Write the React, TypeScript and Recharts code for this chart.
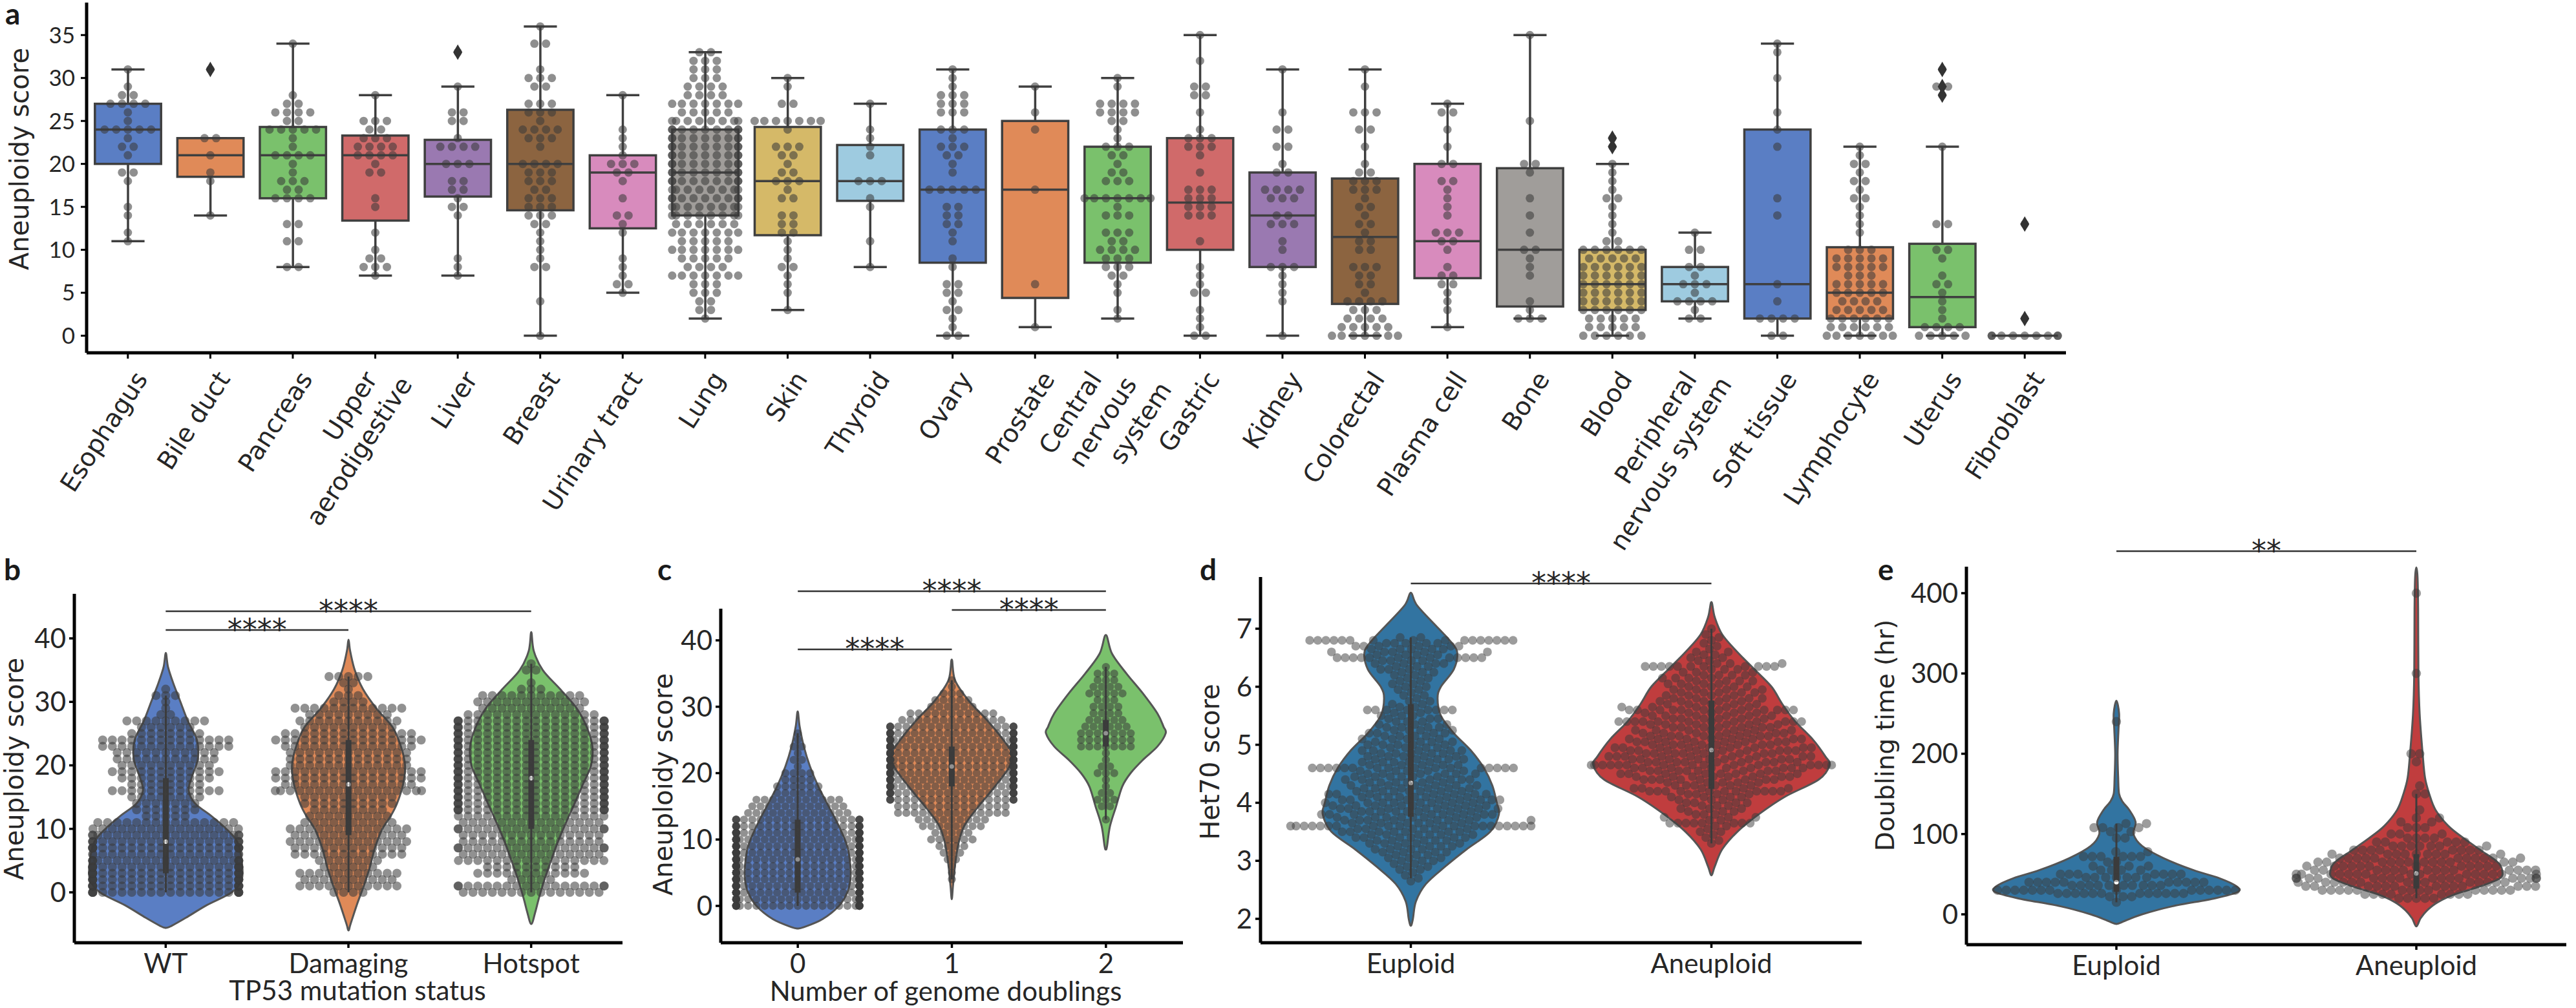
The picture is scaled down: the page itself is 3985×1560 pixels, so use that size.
import React from 'react';
import { ComposedChart, Bar, Scatter, XAxis, YAxis, ReferenceLine } from 'recharts';

// ---------------- Panel a data ----------------
const aCategories = ['Esophagus', 'Bile duct', 'Pancreas', 'Upper\naerodigestive', 'Liver', 'Breast', 'Urinary tract', 'Lung', 'Skin', 'Thyroid', 'Ovary', 'Prostate', 'Central\nnervous\nsystem', 'Gastric', 'Kidney', 'Colorectal', 'Plasma cell', 'Bone', 'Blood', 'Peripheral\nnervous system', 'Soft tissue', 'Lymphocyte', 'Uterus', 'Fibroblast'];
const aWhiskerLow = [11, 14, 8, 7, 7, 0, 5, 2, 3, 8, 0, 1, 2, 0, 0, 0, 1, 2, 0, 2, 0, 0, 0, 0];
const aQ1 = [20, 18.5, 16, 13.4, 16.2, 14.6, 12.5, 14, 11.7, 15.7, 8.5, 4.4, 8.5, 10, 8, 3.7, 6.7, 3.4, 3, 4, 2, 2, 1, 0];
const aMedian = [24, 21, 21, 21, 20, 20, 19, 19, 18, 18, 17, 17, 16, 15.5, 14, 11.5, 11, 10, 6, 6, 6, 5, 4.5, 0];
const aQ3 = [27, 23, 24.3, 23.3, 22.8, 26.3, 21, 24, 24.3, 22.2, 24, 25, 22, 23, 19, 18.3, 20, 19.5, 10, 8, 24, 10.3, 10.7, 0];
const aWhiskerHigh = [31, 23, 34, 28, 29, 36, 28, 33, 30, 27, 31, 29, 30, 35, 31, 31, 27, 35, 20, 12, 34, 22, 22, 0];
const aOutliers = [[], [31], [], [], [33], [], [], [], [], [], [], [], [], [], [], [], [], [], [22, 23], [], [], [], [28, 29, 31], [2, 13]];

const esophagus = [11, 12, 14, 15, 18, 19, 19, 21, 22, 22, 23, 24, 24, 24, 24, 24, 25, 26, 27, 27, 27, 27, 28, 28, 29, 31];
const bileDuct = [14, 18, 19, 21, 23, 23, 31];
const pancreas = [8, 8, 11, 11, 13, 13, 16, 16, 16, 16, 17, 17, 18, 18, 18, 19, 20, 21, 21, 21, 21, 22, 23, 24, 24, 24, 24, 24, 25, 25, 26, 26, 26, 26, 27, 27, 28, 34];
const upperAero = [7, 8, 8, 8, 9, 9, 10, 12, 15, 16, 19, 19, 20, 21, 21, 21, 21, 22, 22, 22, 22, 23, 23, 23, 24, 24, 25, 25, 25, 28];
const liver = [7, 8, 9, 14, 15, 15, 16, 17, 17, 18, 18, 20, 20, 20, 22, 22, 22, 22, 23, 25, 25, 26, 26, 29, 33];
const breast = [0, 4, 8, 8, 9, 10, 11, 12, 13, 13, 14, 14, 14, 15, 15, 15, 16, 16, 16, 17, 17, 18, 18, 18, 19, 19, 19, 20, 20, 20, 20, 22, 23, 23, 23, 24, 24, 24, 24, 25, 26, 26, 26, 27, 27, 27, 29, 29, 30, 30, 30, 31, 34, 34, 36];
const urinaryTract = [5, 6, 6, 7, 8, 9, 12, 13, 14, 14, 16, 18, 19, 19, 20, 20, 20, 21, 22, 23, 24, 28];
const lungCounts = [0, 0, 1, 2, 2, 3, 3, 7, 4, 5, 7, 5, 7, 6, 8, 8, 9, 8, 9, 9, 9, 9, 9, 9, 9, 8, 5, 7, 4, 4, 3, 3, 3, 2];
const skin = [3, 5, 6, 7, 8, 8, 9, 10, 11, 12, 12, 13, 13, 14, 14, 16, 16, 17, 18, 18, 18, 19, 19, 20, 21, 21, 22, 22, 22, 24, 25, 25, 25, 25, 25, 25, 25, 27, 27, 29, 30];
const thyroid = [8, 11, 15, 16, 18, 18, 18, 21, 22, 23, 24, 27];
const ovary = [0, 0, 1, 2, 3, 3, 4, 5, 5, 6, 6, 8, 9, 11, 12, 13, 13, 14, 14, 15, 15, 17, 17, 17, 17, 17, 19, 20, 21, 21, 22, 22, 22, 23, 24, 24, 24, 26, 26, 26, 27, 27, 27, 28, 28, 28, 29, 30, 31];
const prostate = [1, 6, 17, 24, 26, 29];
const cns = [2, 3, 5, 6, 7, 7, 8, 8, 8, 9, 9, 9, 10, 10, 10, 10, 11, 11, 12, 12, 12, 14, 14, 14, 15, 16, 16, 16, 16, 16, 16, 16, 18, 18, 18, 19, 19, 20, 21, 21, 22, 22, 22, 23, 24, 25, 25, 26, 26, 26, 26, 27, 27, 27, 27, 29, 30];
const gastric = [0, 0, 1, 2, 3, 5, 5, 6, 7, 8, 11, 14, 14, 14, 15, 15, 15, 16, 16, 16, 17, 17, 17, 19, 21, 22, 22, 22, 23, 23, 23, 24, 26, 28, 28, 29, 29, 32, 35];
const kidney = [0, 4, 5, 6, 7, 8, 8, 8, 10, 11, 13, 13, 13, 14, 14, 16, 16, 16, 17, 17, 17, 17, 19, 19, 20, 22, 22, 24, 24, 26, 31];
const colorectal = [0, 0, 0, 0, 0, 0, 0, 1, 1, 1, 1, 1, 2, 2, 2, 2, 3, 3, 3, 4, 4, 4, 4, 5, 6, 6, 7, 7, 8, 8, 8, 10, 10, 11, 11, 12, 13, 13, 14, 15, 15, 16, 17, 17, 17, 18, 18, 18, 19, 19, 20, 22, 24, 24, 26, 26, 26, 29, 31];
const plasmaCell = [1, 3, 4, 5, 6, 6, 7, 7, 8, 10, 11, 11, 12, 12, 12, 14, 15, 16, 17, 18, 18, 20, 20, 22, 24, 26, 26, 27];
const bone = [2, 2, 2, 3, 4, 7, 8, 9, 10, 10, 12, 14, 16, 19, 20, 20, 25, 35];
const bloodCounts = [6, 5, 5, 6, 6, 6, 6, 6, 6, 5, 6, 2, 1, 1, 1, 1, 2, 1, 1, 1, 1, 0, 1, 1];
const peripheral = [2, 2, 3, 4, 4, 4, 4, 5, 6, 6, 6, 7, 8, 8, 10, 10, 12];
const softTissue = [0, 0, 2, 2, 2, 2, 4, 6, 14, 16, 22, 24, 26, 30, 33, 34];
const lymphocyteCounts = [7, 6, 6, 5, 4, 5, 5, 3, 5, 5, 3, 0, 1, 1, 1, 1, 2, 1, 2, 1, 2, 1, 1];
const uterus = [0, 0, 0, 0, 0, 1, 1, 1, 1, 2, 3, 4, 5, 6, 6, 7, 9, 10, 10, 13, 13, 22, 28, 29, 29, 31];
const fibroblast = [0, 0, 0, 0, 0, 0, 0, 0, 0, 2, 13];
const aYTicks = [0, 5, 10, 15, 20, 25, 30, 35];

// ---------------- Panel b data ----------------
const bCategories = ['WT', 'Damaging', 'Hotspot'];
const bWtCounts = [22, 22, 22, 22, 22, 21, 18, 22, 20, 19, 16, 15, 5, 7, 7, 8, 12, 8, 10, 12, 10, 11, 11, 14, 14, 8, 6, 9, 2, 1, 1, 3, 1];
const bDamagingCounts = [4, 11, 10, 11, 6, 7, 12, 12, 13, 12, 13, 10, 9, 8, 10, 10, 17, 14, 16, 16, 13, 13, 13, 14, 16, 14, 10, 11, 9, 12, 4, 3, 1, 2, 5];
const bHotspotCounts = [15, 18, 5, 12, 10, 16, 15, 18, 15, 15, 18, 15, 16, 20, 20, 20, 20, 20, 20, 20, 20, 20, 20, 20, 20, 20, 20, 20, 14, 11, 12, 11, 3, 1, 0, 2, 1];
const bWtViolin = [[-5.6, 0], [-5.3, 0.03], [-4, 0.11], [-2, 0.225], [0, 0.36], [2, 0.415], [5, 0.415], [8, 0.39], [10, 0.33], [12, 0.25], [14, 0.16], [16, 0.125], [18, 0.14], [21, 0.175], [24, 0.17], [27, 0.12], [30, 0.08], [33, 0.04], [35.5, 0.012], [37.7, 0]];
const bDamagingViolin = [[-6, 0], [-5, 0.011], [-2, 0.045], [1, 0.083], [4, 0.117], [7, 0.144], [10, 0.185], [12, 0.23], [14, 0.265], [17, 0.298], [20, 0.309], [23, 0.286], [26, 0.241], [29, 0.151], [32, 0.079], [35, 0.034], [38, 0.009], [39.8, 0]];
const bHotspotViolin = [[-5, 0], [-3, 0.023], [-1, 0.041], [2, 0.072], [5, 0.108], [8, 0.146], [11, 0.19], [14, 0.237], [17, 0.282], [20, 0.327], [23, 0.334], [26, 0.304], [29, 0.248], [32, 0.158], [35, 0.063], [38, 0.014], [41, 0]];
const bInner = [[0, 3, 8, 18, 31], [0, 9, 17, 24, 34], [0, 10, 18, 24, 36]];
const bSig = [{ from: 0, to: 2, y: 44.27, text: '****' }, { from: 0, to: 1, y: 41.32, text: '****' }];

// ---------------- Panel c data ----------------
const cCategories = ['0', '1', '2'];
const c0Counts = [25, 25, 26, 26, 27, 27, 27, 27, 26, 26, 25, 24, 22, 20, 13, 12, 11, 6, 6, 4, 4, 1, 2, 1, 2, 1, 1];
const c1Start = 4;
const c1Counts = [1, 1, 1, 2, 3, 4, 6, 5, 8, 9, 14, 14, 20, 22, 23, 24, 25, 25, 25, 24, 24, 23, 22, 20, 13, 11, 6, 5, 3, 1, 1];
const c2Start = 13;
const c2Counts = [1, 0, 2, 3, 2, 1, 1, 3, 2, 1, 1, 7, 7, 7, 6, 5, 4, 4, 3, 5, 4, 3, 3, 1];
const c0Violin = [[-3.4, 0], [-3.2, 0.04], [-2, 0.161], [0, 0.268], [2, 0.322], [4, 0.343], [6, 0.343], [9, 0.322], [12, 0.268], [15, 0.201], [18, 0.134], [21, 0.08], [24, 0.04], [27, 0.013], [29.3, 0]];
const c1Violin = [[1, 0], [3, 0.008], [6, 0.021], [9, 0.04], [12, 0.08], [15, 0.174], [18, 0.281], [21, 0.375], [23, 0.389], [25, 0.335], [28, 0.228], [31, 0.107], [34, 0.021], [37.1, 0]];
const c2Violin = [[8.5, 0], [9, 0.008], [12, 0.027], [15, 0.067], [18, 0.107], [20, 0.161], [22, 0.241], [24, 0.335], [26, 0.389], [27, 0.375], [29, 0.335], [32, 0.241], [35, 0.134], [38, 0.04], [40.8, 0]];
const cInner = [[0, 2, 7, 13, 26], [4, 18, 21, 24, 34], [13, 24, 26, 28, 36]];
const cSig = [{ from: 0, to: 2, y: 47.4, text: '****' }, { from: 1, to: 2, y: 44.57, text: '****' }, { from: 0, to: 1, y: 38.64, text: '****' }];

// ---------------- Panel d data ----------------
const dCategories = ['Euploid', 'Aneuploid'];
const het70Start = 2.6;
const het70Step = 0.05;
const dEuploidCounts = [0, 1, 1, 1, 1, 2, 2, 2, 3, 3, 3, 4, 4, 4, 5, 5, 6, 6, 7, 6, 20, 6, 8, 8, 8, 8, 8, 8, 8, 8, 8, 7, 7, 6, 6, 6, 6, 6, 6, 5, 16, 5, 5, 5, 5, 5, 5, 4, 5, 4, 4, 4, 4, 4, 4, 3, 3, 3, 3, 2, 8, 2, 2, 2, 1, 2, 1, 2, 2, 2, 2, 2, 2, 3, 3, 3, 4, 4, 12, 4, 5, 5, 6, 5, 16, 2];
const dAneuploidCounts = [0, 0, 0, 0, 0, 0, 0, 0, 0, 0, 0, 0, 0, 0, 1, 1, 1, 1, 2, 1, 2, 8, 2, 3, 3, 3, 3, 3, 4, 3, 4, 4, 11, 5, 6, 5, 8, 8, 8, 8, 9, 15, 9, 9, 9, 9, 9, 9, 8, 8, 8, 8, 7, 7, 7, 6, 12, 6, 6, 5, 12, 5, 5, 5, 5, 4, 5, 4, 4, 4, 4, 4, 4, 3, 3, 11, 3, 2, 2, 2, 2, 1, 1, 1, 1, 1, 1, 0, 1];
const dEuploidViolin = [[1.88, 0], [2.0, 0.007], [2.3, 0.017], [2.6, 0.05], [2.9, 0.114], [3.2, 0.186], [3.5, 0.264], [3.8, 0.293], [4.0, 0.286], [4.3, 0.271], [4.6, 0.243], [4.9, 0.2], [5.2, 0.143], [5.5, 0.1], [5.8, 0.089], [6.0, 0.1], [6.3, 0.143], [6.6, 0.154], [6.8, 0.129], [7.0, 0.093], [7.4, 0.021], [7.62, 0]];
const dAneuploidViolin = [[2.75, 0], [2.9, 0.011], [3.2, 0.036], [3.5, 0.086], [3.8, 0.157], [4.1, 0.243], [4.4, 0.357], [4.65, 0.393], [4.8, 0.379], [5.1, 0.336], [5.4, 0.279], [5.7, 0.236], [6.0, 0.2], [6.3, 0.143], [6.6, 0.086], [6.9, 0.036], [7.2, 0.011], [7.46, 0]];
const dInner = [[2.7, 3.76, 4.34, 5.7, 6.85], [3.3, 4.24, 4.91, 5.76, 7.0]];
const dSig = [{ from: 0, to: 1, y: 7.78, text: '****' }];

// ---------------- Panel e data ----------------
const eCategories = ['Euploid', 'Aneuploid'];
const eEuploidValues = [15, 22, 26, 30, 36, 40, 46, 50, 55, 60, 65, 72, 78, 95, 103, 108, 113, 240];
const eEuploidCounts = [1, 3, 12, 14, 10, 10, 7, 7, 4, 3, 2, 6, 2, 2, 2, 4, 2, 1];
const eAneuploidValues = [20, 25, 30, 35, 40, 45, 50, 55, 60, 65, 70, 75, 80, 85, 90, 95, 100, 108, 115, 120, 130, 150, 160, 190, 200, 300, 400];
const eAneuploidCounts = [5, 8, 14, 13, 14, 17, 15, 14, 12, 12, 11, 9, 8, 7, 5, 4, 3, 3, 2, 2, 1, 2, 1, 1, 2, 1, 1];
const eEuploidViolin = [[-12, 0], [-8, 0.029], [0, 0.086], [10, 0.186], [20, 0.329], [28, 0.405], [35, 0.4], [45, 0.343], [55, 0.257], [70, 0.157], [85, 0.086], [100, 0.057], [115, 0.064], [130, 0.043], [140, 0.021], [150, 0.009], [170, 0.006], [200, 0.004], [230, 0.007], [250, 0.009], [266, 0]];
const eAneuploidViolin = [[-15, 0], [-5, 0.014], [5, 0.036], [15, 0.071], [25, 0.129], [35, 0.214], [45, 0.279], [55, 0.286], [65, 0.271], [80, 0.214], [95, 0.157], [110, 0.107], [130, 0.064], [150, 0.043], [170, 0.029], [200, 0.021], [250, 0.011], [300, 0.007], [380, 0.006], [420, 0.004], [432, 0]];
const eInner = [[15, 28, 40, 72, 113], [20, 32, 51, 75, 150]];
const eSig = [{ from: 0, to: 1, y: 452.3, text: '**' }];

// ---------------- Styles ----------------
const boxPalette = ['#5a7ec4', '#e08a58', '#7ac16c', '#d06a6a', '#9a79b1', '#8c6440', '#d88bbd', '#a09d9a', '#d5b968', '#9ecbe0'];
const ploidyColors = ['#3274a1', '#c03d3e'];
const TXT = '#262626';

// ---------------- Layout configs ----------------
const A_CFG = { left: 0, top: 0, width: 3200, height: 900, margin: { top: 4, right: 4, bottom: 0, left: 0 }, yAxisWidth: 134, xAxisHeight: 354, domain: [-1.99, 38.78] };
const B_CFG = { left: 0, top: 820, width: 1000, height: 740, margin: { top: 99, right: 37, bottom: 0, left: 0 }, yAxisWidth: 115, xAxisHeight: 101, domain: [-7.94, 47.02] };
const C_CFG = { left: 1000, top: 820, width: 840, height: 740, margin: { top: 122, right: 10, bottom: 0, left: 0 }, yAxisWidth: 115, xAxisHeight: 101, domain: [-5.55, 44.77] };
const D_CFG = { left: 1840, top: 820, width: 1060, height: 740, margin: { top: 73, right: 20, bottom: 0, left: 0 }, yAxisWidth: 110, xAxisHeight: 101, domain: [1.588, 7.891] };
const E_CFG = { left: 2930, top: 820, width: 1055, height: 740, margin: { top: 57, right: 15, bottom: 0, left: 0 }, yAxisWidth: 112, xAxisHeight: 98, domain: [-37.8, 433] };

function plotDims(cfg: any, n: number) {
  const w = cfg.width - cfg.margin.left - cfg.margin.right - cfg.yAxisWidth;
  const h = cfg.height - cfg.margin.top - cfg.margin.bottom - cfg.xAxisHeight;
  return { band: w / n, pxPerUnit: h / (cfg.domain[1] - cfg.domain[0]) };
}

// ---------------- Helpers ----------------
function fromCounts(counts: number[], start = 0, step = 1): number[] {
  const out: number[] = [];
  counts.forEach((c, i) => {
    const v = +(start + i * step).toFixed(3);
    for (let k = 0; k < c; k++) out.push(v);
  });
  return out;
}
function fromPairs(values: number[], counts: number[]): number[] {
  const out: number[] = [];
  values.forEach((v, i) => { for (let k = 0; k < (counts[i] || 0); k++) out.push(v); });
  return out;
}
function rowSwarm(values: number[], cat: number, pitch: number, maxHalf = 0.4) {
  const groups = new Map<number, number>();
  values.forEach((v) => groups.set(v, (groups.get(v) || 0) + 1));
  const pts: { x: number; y: number }[] = [];
  groups.forEach((n, v) => {
    for (let k = 0; k < n; k++) {
      let off = (k - (n - 1) / 2) * pitch;
      off = Math.max(-maxHalf, Math.min(maxHalf, off));
      pts.push({ x: cat + off, y: v });
    }
  });
  return pts;
}
function beeswarm(values: number[], cat: number, pxPerUnit: number, band: number, diam: number, maxHalf = 0.4) {
  const sorted = [...values].sort((a, b) => a - b);
  const placed: { x: number; y: number }[] = [];
  const out: { x: number; y: number }[] = [];
  const d2 = diam * diam;
  for (const v of sorted) {
    const y = v * pxPerUnit;
    const neigh = placed.filter((p) => Math.abs(p.y - y) < diam);
    const cands = [0];
    for (const p of neigh) {
      const dx = Math.sqrt(Math.max(0, d2 - (p.y - y) * (p.y - y)));
      cands.push(p.x + dx, p.x - dx);
    }
    cands.sort((a, b) => Math.abs(a) - Math.abs(b));
    let chosen = 0;
    for (const c of cands) {
      if (neigh.every((p) => (p.x - c) * (p.x - c) + (p.y - y) * (p.y - y) >= d2 - 1e-6)) { chosen = c; break; }
    }
    placed.push({ x: chosen, y });
    let off = chosen / band;
    off = Math.max(-maxHalf, Math.min(maxHalf, off));
    out.push({ x: cat + off, y: v });
  }
  return out;
}
function closedSmooth(pts: number[][]) {
  const n = pts.length;
  if (n < 3) return '';
  let d = `M${pts[0][0]},${pts[0][1]}`;
  for (let i = 0; i < n; i++) {
    const p0 = pts[(i - 1 + n) % n], p1 = pts[i], p2 = pts[(i + 1) % n], p3 = pts[(i + 2) % n];
    const c1x = p1[0] + (p2[0] - p0[0]) / 6, c1y = p1[1] + (p2[1] - p0[1]) / 6;
    const c2x = p2[0] - (p3[0] - p1[0]) / 6, c2y = p2[1] - (p3[1] - p1[1]) / 6;
    d += `C${c1x},${c1y} ${c2x},${c2y} ${p2[0]},${p2[1]}`;
  }
  return d + 'Z';
}

// ---------------- Shapes ----------------
const BoxShape = (props: any) => {
  const src = props && props.payload && props.payload.q1 !== undefined ? props.payload : props;
  const { x, y, width, height } = props;
  if (src == null || src.q1 === undefined || !isFinite(x) || !isFinite(y)) return <g />;
  const { lo, q1, med, q3, hi, color } = src;
  const h = isFinite(height) ? height : 0;
  const py = (v: number) => (hi === lo ? y : y + (h * (hi - v)) / (hi - lo));
  const cx = x + width / 2;
  const bw = width * 0.8;
  const cw = bw / 2;
  const st = '#3f3f3f';
  const sw = 3.5;
  return (
    <g>
      <line x1={cx} x2={cx} y1={py(hi)} y2={py(q3)} stroke={st} strokeWidth={sw} />
      <line x1={cx} x2={cx} y1={py(q1)} y2={py(lo)} stroke={st} strokeWidth={sw} />
      <line x1={cx - cw / 2} x2={cx + cw / 2} y1={py(hi)} y2={py(hi)} stroke={st} strokeWidth={sw} />
      <line x1={cx - cw / 2} x2={cx + cw / 2} y1={py(lo)} y2={py(lo)} stroke={st} strokeWidth={sw} />
      <rect x={cx - bw / 2} y={py(q3)} width={bw} height={Math.max(0, py(q1) - py(q3))} fill={color} stroke={st} strokeWidth={sw} />
      <line x1={cx - bw / 2} x2={cx + bw / 2} y1={py(med)} y2={py(med)} stroke={st} strokeWidth={sw} />
    </g>
  );
};

const ViolinShape = (props: any) => {
  const src = props && props.payload && props.payload.profile ? props.payload : props;
  const { x, y, width, height } = props;
  if (src == null || !Array.isArray(src.profile) || !Array.isArray(src.stats) || !isFinite(x) || !isFinite(y)) return <g />;
  const prof: number[][] = src.profile;
  const lo = src.vlo;
  const hi = src.vhi;
  const py = (v: number) => y + (height * (hi - v)) / (hi - lo);
  const cx = x + width / 2;
  const right = prof.map((p) => [cx + p[1] * width, py(p[0])]);
  const left = prof.slice(1, -1).reverse().map((p) => [cx - p[1] * width, py(p[0])]);
  const d = closedSmooth([...right, ...left]);
  const [wl, q1, md, q3, wh] = src.stats;
  return (
    <g>
      <path d={d} fill={src.color} stroke="#555" strokeWidth={3} />
      <line x1={cx} x2={cx} y1={py(wl)} y2={py(wh)} stroke="#3d3d3d" strokeWidth={3} />
      <line x1={cx} x2={cx} y1={py(q1)} y2={py(q3)} stroke="#3d3d3d" strokeWidth={9} />
      <circle cx={cx} cy={py(md)} r={3.5} fill="#fff" />
    </g>
  );
};

const makeDot = (r: number, op: number) => (p: any) => (
  <circle cx={p.cx} cy={p.cy} r={r} fill="#3a3a3a" fillOpacity={op} />
);

const Diamond = (p: any) => (
  <polygon points={`${p.cx},${p.cy - 12} ${p.cx + 7},${p.cy} ${p.cx},${p.cy + 12} ${p.cx - 7},${p.cy}`} fill="#333" />
);

const starLabel = (text: string) => (p: any) => {
  const vb = p && p.viewBox ? p.viewBox : { x: 0, y: 0, width: 0 };
  const cx = (vb.x || 0) + (vb.width || 0) / 2;
  return (
    <text x={cx} y={(vb.y || 0) + 15} textAnchor="middle" fontSize={46} fontFamily="DejaVu Sans" fill={TXT}>{text}</text>
  );
};

const CategoryTickA = (props: any) => {
  const { x, y, payload } = props;
  const lines = String(payload && payload.value !== undefined ? payload.value : '').split('\n');
  const m = lines.length;
  const ox = x + 8 - ((m - 1) / 2) * 55;
  const oy = y + 6;
  return (
    <g transform={`translate(${ox},${oy}) rotate(-57)`}>
      {lines.map((ln, k) => (
        <text key={k} x={k * 22.7} y={28.5 + k * 49.7} textAnchor="end" fontSize={39} fontFamily="DejaVu Sans" fill={TXT}>{ln}</text>
      ))}
    </g>
  );
};

const rangeBox = (d: any) => (d && d.lo !== undefined ? [d.lo, d.hi] : null);
const rangeViolin = (d: any) => (d && d.vlo !== undefined ? [d.vlo, d.vhi] : null);

// ---------------- Panel a ----------------
function BoxPanel() {
  const cfg = A_CFG;
  const n = aCategories.length;
  const { band } = plotDims(cfg, n);
  const aPoints = [esophagus, bileDuct, pancreas, upperAero, liver, breast, urinaryTract, fromCounts(lungCounts), skin, thyroid, ovary, prostate, cns, gastric, kidney, colorectal, plasmaCell, bone, fromCounts(bloodCounts), peripheral, softTissue, fromCounts(lymphocyteCounts), uterus, fibroblast];
  const rows = aCategories.map((name, i) => ({ name, lo: aWhiskerLow[i], q1: aQ1[i], med: aMedian[i], q3: aQ3[i], hi: aWhiskerHigh[i], color: boxPalette[i % 10] }));
  const pts = aPoints.flatMap((vals, i) => rowSwarm(vals, i, 18 / band));
  const outs = aOutliers.flatMap((vs, i) => vs.map((v) => ({ x: i, y: v })));
  return (
    <div style={{ position: 'absolute', left: cfg.left, top: cfg.top }}>
      <ComposedChart width={cfg.width} height={cfg.height} data={rows} margin={cfg.margin} barCategoryGap={0} barGap={0}>
        <XAxis dataKey="name" type="category" height={cfg.xAxisHeight} interval={0} tickSize={9} tickMargin={10}
          tickLine={{ stroke: '#000', strokeWidth: 3 }} axisLine={{ stroke: '#000', strokeWidth: 5 }} tick={<CategoryTickA />} />
        <XAxis xAxisId="num" dataKey="x" type="number" domain={[-0.5, n - 0.5]} hide />
        <YAxis type="number" domain={cfg.domain} ticks={aYTicks} interval={0} width={cfg.yAxisWidth} tickSize={9} tickMargin={9}
          tickLine={{ stroke: '#000', strokeWidth: 3 }} axisLine={{ stroke: '#000', strokeWidth: 5 }}
          tick={{ fontSize: 35, fontFamily: 'Lato', fill: TXT }} />
        <Bar dataKey={rangeBox} shape={BoxShape} isAnimationActive={false} />
        <Scatter xAxisId="num" data={pts} dataKey="y" shape={makeDot(6.5, 0.57)} isAnimationActive={false} />
        <Scatter xAxisId="num" data={outs} dataKey="y" shape={Diamond} isAnimationActive={false} />
      </ComposedChart>
    </div>
  );
}

// ---------------- Violin panels ----------------
function ViolinPanel(props: any) {
  const { cfg, names, profiles, stats, colors, points, dotR, dotOp, sig, yTicks } = props;
  const rows = names.map((name: string, i: number) => ({
    name, profile: profiles[i], stats: stats[i], color: colors[i],
    vlo: profiles[i][0][0], vhi: profiles[i][profiles[i].length - 1][0],
  }));
  const n = rows.length;
  return (
    <div style={{ position: 'absolute', left: cfg.left, top: cfg.top }}>
      <ComposedChart width={cfg.width} height={cfg.height} data={rows} margin={cfg.margin} barCategoryGap={0} barGap={0}>
        <XAxis dataKey="name" type="category" height={cfg.xAxisHeight} interval={0} tickSize={8} tickMargin={9}
          tickLine={{ stroke: '#000', strokeWidth: 3.5 }} axisLine={{ stroke: '#000', strokeWidth: 5 }}
          tick={{ fontSize: 42, fontFamily: 'Lato', fill: TXT }} />
        <XAxis xAxisId="num" dataKey="x" type="number" domain={[-0.5, n - 0.5]} hide />
        <YAxis type="number" domain={cfg.domain} ticks={yTicks} interval={0} width={cfg.yAxisWidth} tickSize={8} tickMargin={5}
          tickLine={{ stroke: '#000', strokeWidth: 3.5 }} axisLine={{ stroke: '#000', strokeWidth: 5 }}
          tick={{ fontSize: 42, fontFamily: 'Lato', fill: TXT }} />
        <Bar dataKey={rangeViolin} shape={ViolinShape} isAnimationActive={false} />
        <Scatter xAxisId="num" data={points} dataKey="y" shape={makeDot(dotR, dotOp)} isAnimationActive={false} />
        {sig.map((s: any, i: number) => (
          <ReferenceLine key={i} xAxisId="num" segment={[{ x: s.from, y: s.y }, { x: s.to, y: s.y }]} stroke="#333" strokeWidth={2.5}
            ifOverflow="visible" label={starLabel(s.text)} />
        ))}
      </ComposedChart>
    </div>
  );
}

export default function App() {
  const bDims = plotDims(B_CFG, 3);
  const cDims = plotDims(C_CFG, 3);
  const dDims = plotDims(D_CFG, 2);
  const eDims = plotDims(E_CFG, 2);

  const bPoints = [
    ...rowSwarm(fromCounts(bWtCounts), 0, 15 / bDims.band),
    ...rowSwarm(fromCounts(bDamagingCounts), 1, 15 / bDims.band),
    ...rowSwarm(fromCounts(bHotspotCounts), 2, 15 / bDims.band),
  ];
  const cPoints = [
    ...rowSwarm(fromCounts(c0Counts), 0, 12.8 / cDims.band),
    ...rowSwarm(fromCounts(c1Counts, c1Start), 1, 12.8 / cDims.band),
    ...rowSwarm(fromCounts(c2Counts, c2Start), 2, 12.8 / cDims.band),
  ];
  const dPoints = [
    ...beeswarm(fromCounts(dEuploidCounts, het70Start, het70Step), 0, dDims.pxPerUnit, dDims.band, 12.5),
    ...beeswarm(fromCounts(dAneuploidCounts, het70Start, het70Step), 1, dDims.pxPerUnit, dDims.band, 12.5),
  ];
  const ePoints = [
    ...beeswarm(fromPairs(eEuploidValues, eEuploidCounts), 0, eDims.pxPerUnit, eDims.band, 13.5),
    ...beeswarm(fromPairs(eAneuploidValues, eAneuploidCounts), 1, eDims.pxPerUnit, eDims.band, 13.5),
  ];

  const letter = { fontFamily: 'Lato', fontWeight: 700, fontSize: 46, fill: '#1a1a1a' } as any;
  const ytitle = { fontFamily: 'DejaVu Sans', fontSize: 40, fill: TXT, textAnchor: 'middle' } as any;
  const xtitle = { fontFamily: 'Lato', fontSize: 42, fill: TXT, textAnchor: 'middle' } as any;

  return (
    <div style={{ position: 'absolute', left: 0, top: 0, width: 3985, height: 1560, background: '#fff', overflow: 'hidden' }}>
      <BoxPanel />
      <ViolinPanel cfg={B_CFG} names={bCategories} profiles={[bWtViolin, bDamagingViolin, bHotspotViolin]} stats={bInner}
        colors={boxPalette.slice(0, 3)} points={bPoints} dotR={7} dotOp={0.56} sig={bSig} yTicks={[0, 10, 20, 30, 40]} />
      <ViolinPanel cfg={C_CFG} names={cCategories} profiles={[c0Violin, c1Violin, c2Violin]} stats={cInner}
        colors={boxPalette.slice(0, 3)} points={cPoints} dotR={6.2} dotOp={0.56} sig={cSig} yTicks={[0, 10, 20, 30, 40]} />
      <ViolinPanel cfg={D_CFG} names={dCategories} profiles={[dEuploidViolin, dAneuploidViolin]} stats={dInner}
        colors={ploidyColors} points={dPoints} dotR={6.8} dotOp={0.5} sig={dSig} yTicks={[2, 3, 4, 5, 6, 7]} />
      <ViolinPanel cfg={E_CFG} names={eCategories} profiles={[eEuploidViolin, eAneuploidViolin]} stats={eInner}
        colors={ploidyColors} points={ePoints} dotR={7.2} dotOp={0.5} sig={eSig} yTicks={[0, 100, 200, 300, 400]} />
      <svg width={3985} height={1560} style={{ position: 'absolute', left: 0, top: 0, pointerEvents: 'none' }}>
        <text x={8} y={38} {...letter}>a</text>
        <text x={6} y={898} {...letter}>b</text>
        <text x={1017} y={898} {...letter}>c</text>
        <text x={1856} y={898} {...letter}>d</text>
        <text x={2905} y={898} {...letter}>e</text>
        <text transform="translate(44,246) rotate(-90)" {...ytitle}>Aneuploidy score</text>
        <text transform="translate(36,1190) rotate(-90)" {...ytitle}>Aneuploidy score</text>
        <text transform="translate(1040,1214) rotate(-90)" {...ytitle}>Aneuploidy score</text>
        <text transform="translate(1886,1179) rotate(-90)" {...ytitle}>Het70 score</text>
        <text transform="translate(2930,1138) rotate(-90)" {...ytitle} fontSize={39}>Doubling time (hr)</text>
        <text x={553} y={1548} {...xtitle}>TP53 mutation status</text>
        <text x={1463} y={1549} {...xtitle}>Number of genome doublings</text>
      </svg>
    </div>
  );
}
